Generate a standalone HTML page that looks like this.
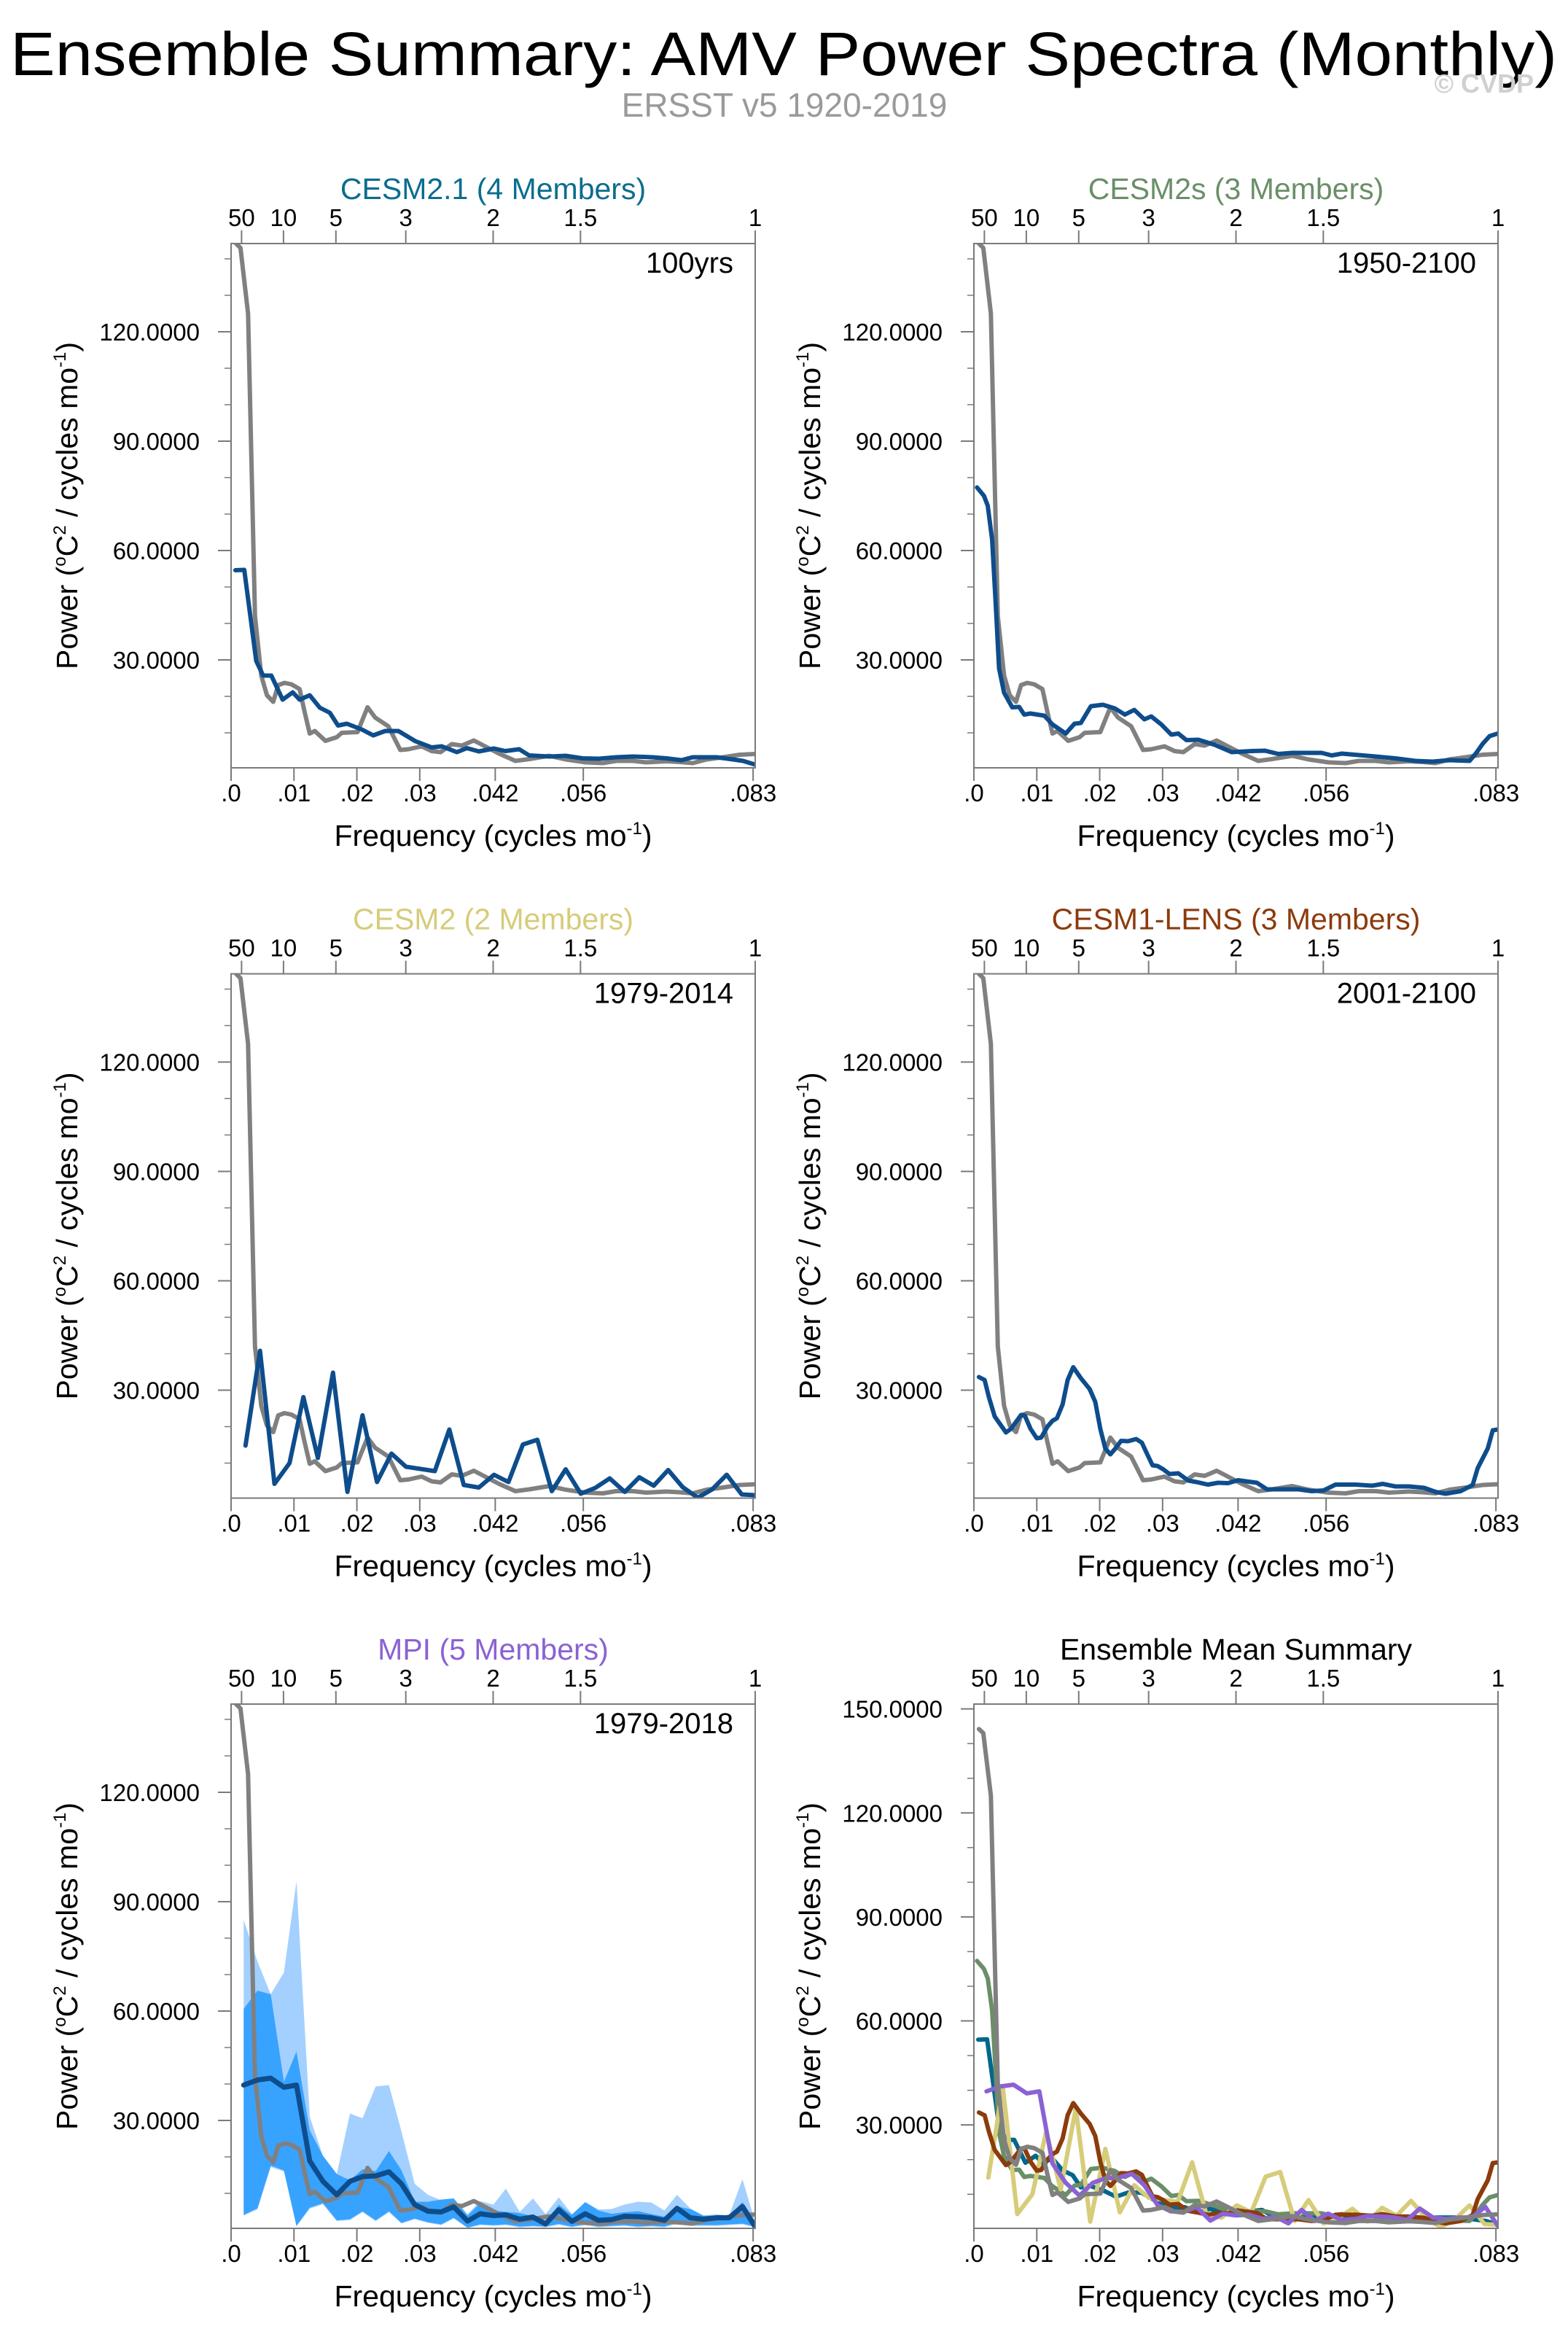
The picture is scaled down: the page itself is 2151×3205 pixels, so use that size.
<!DOCTYPE html>
<html><head><meta charset="utf-8"><style>
html,body{margin:0;padding:0;background:#fff;}
svg{display:block;font-family:"Liberation Sans",Arial,sans-serif;}
</style></head><body>
<svg id="chart" width="2151" height="3205" viewBox="0 0 2151 3205" xmlns="http://www.w3.org/2000/svg">
<text x="14" y="103" font-size="84" textLength="2122" lengthAdjust="spacingAndGlyphs" fill="#000">Ensemble Summary: AMV Power Spectra (Monthly)</text>
<text x="1076" y="160" font-size="46" text-anchor="middle" fill="#9a9a9a">ERSST v5 1920-2019</text>
<text x="2104" y="127" font-size="36" font-weight="bold" text-anchor="end" fill="#d0d0d0">© CVDP</text>
<g id="panels"></g>
</svg>
<script>
// ---------- data ----------
const obsF = [0.0008,0.0015,0.0027,0.0038,0.0048,0.0057,0.0067,0.0075,0.0085,0.0096,0.0109,0.0117,0.0125,0.0133,0.015,0.0168,0.0176,0.0201,0.0217,0.0229,0.025,0.0269,0.0282,0.0303,0.0319,0.0333,0.0351,0.0367,0.0386,0.0396,0.0426,0.0452,0.0474,0.0506,0.0532,0.0564,0.0591,0.0612,0.0639,0.066,0.0692,0.0713,0.0734,0.0756,0.0782,0.0809,0.0833];
const obsV = [144.2,143,125,42,25.7,20.3,18.5,23.1,23.7,23.3,22,15.7,9.8,10.5,7.8,8.8,10,10.2,17,14.2,11.8,5.3,5.5,6.3,5,4.7,6.9,6.5,7.9,7,4.3,2.3,2.8,3.7,2.7,1.9,1.7,2.3,2.3,1.9,2.2,2,1.7,2.7,3.3,4,4.2];

const cesm21F = [0.0007,0.0021,0.004,0.0051,0.0064,0.0082,0.0098,0.0109,0.0125,0.0141,0.0157,0.017,0.0184,0.0208,0.0226,0.0245,0.0266,0.0293,0.0319,0.0335,0.0359,0.0375,0.0394,0.0418,0.0436,0.0458,0.0474,0.0506,0.0532,0.0559,0.0585,0.0612,0.0639,0.067,0.0692,0.0716,0.0734,0.0772,0.0798,0.0814,0.0833];
const cesm21V = [54.6,54.7,29.7,25.7,25.7,19.1,21.1,19.1,20.3,16.9,15.5,12,12.5,10.9,9.3,10.5,10.5,7.7,6,6.3,4.7,5.8,4.9,5.7,5,5.5,3.8,3.5,3.7,3,2.9,3.3,3.5,3.3,3,2.5,3.3,3.3,2.7,2.3,1.3];

const cesm2sF = [0.0005,0.0016,0.0022,0.0029,0.0035,0.004,0.0048,0.0061,0.0072,0.008,0.009,0.0112,0.0125,0.0146,0.016,0.017,0.0186,0.0205,0.0224,0.024,0.0255,0.0271,0.0282,0.0298,0.0314,0.0325,0.0338,0.0357,0.0383,0.041,0.0442,0.0463,0.0484,0.0506,0.0532,0.0553,0.0569,0.0585,0.0639,0.067,0.0702,0.0729,0.0756,0.0788,0.0798,0.0809,0.082,0.0833];
const cesm2sV = [77.3,75,72.3,63,44.3,27.7,21,17,17.1,15,15.3,14.7,12.3,9.8,12.5,12.7,17.3,17.7,16.7,15,16.3,13.7,14.5,12.3,9.5,9.8,8,8.1,6.7,4.7,5,5.1,4.2,4.5,4.5,4.5,3.8,4.3,3.5,3,2.3,2.1,2.5,2.3,4.3,7,9.1,9.8];

const cesm2F = [0.0023,0.0046,0.0069,0.0093,0.0115,0.0138,0.0162,0.0185,0.0209,0.0232,0.0255,0.0278,0.0324,0.0347,0.037,0.0394,0.0418,0.0441,0.0464,0.0487,0.051,0.0532,0.0556,0.0579,0.0602,0.0626,0.0649,0.0672,0.0695,0.0718,0.0742,0.0765,0.0788,0.0812,0.0833];
const cesm2V = [14.8,40.8,4.3,10,28.1,11.4,34.8,2.1,23.1,4.8,12.6,9,7.8,19.2,4,3.3,6.8,4.8,15.1,16.4,2.3,8.3,1.6,3.2,5.8,2.1,6.1,3.8,8.1,3.4,0.5,2.8,6.8,1.4,1.2];

const lensF = [0.0008,0.0017,0.0024,0.0033,0.0051,0.0059,0.0075,0.0081,0.009,0.01,0.0107,0.0117,0.0125,0.0132,0.0141,0.0149,0.0158,0.017,0.0184,0.0193,0.0201,0.0209,0.0217,0.0225,0.0234,0.0245,0.0258,0.0267,0.0276,0.0284,0.0292,0.0301,0.0311,0.0325,0.0341,0.0354,0.0372,0.0388,0.0404,0.042,0.045,0.0466,0.0495,0.0516,0.0537,0.0556,0.0575,0.0607,0.0633,0.065,0.067,0.0692,0.0716,0.0734,0.075,0.0774,0.0793,0.0801,0.0817,0.0825,0.0833];
const lensV = [33.6,32.8,28,22.8,18.4,19.4,23.2,23,19.4,16.8,17,20,21.6,22.3,26.1,32.8,36.3,33.3,30.3,26.8,19.4,14,12.4,14,16.1,16,16.6,15.6,12.3,9.4,9.2,8.3,7,7.2,5.2,4.8,4.1,4.6,4.5,5.3,4.6,2.8,2.8,2.8,2.3,2.5,4.1,4.1,3.8,4.3,3.6,3.6,3.2,2.1,1.6,2.3,4,8.6,14,19,19.2];

const mpiF = [0.002,0.0042,0.0063,0.0084,0.0104,0.0125,0.0146,0.0168,0.0189,0.0209,0.023,0.0251,0.0271,0.0292,0.0313,0.0334,0.0354,0.0376,0.0396,0.0417,0.0437,0.0459,0.048,0.05,0.0521,0.0542,0.0563,0.0584,0.0605,0.0625,0.0647,0.0668,0.0689,0.0709,0.073,0.0751,0.0772,0.0792,0.0813,0.0833];
const mpiV = [39.7,41.1,41.6,39.1,39.7,18.9,13.3,9.6,13.3,14.6,14.8,15.9,12.6,6.9,5.1,4.9,6.3,2.4,4.4,3.9,4.1,2.9,3.5,1.6,5.5,2.3,4.4,2.6,2.8,3.7,3.6,3.3,2.6,5.9,3.3,2.9,3.3,3.3,6.4,0.9];
const mpiDarkHi = [60.6,65.6,64.6,40.6,48.9,27.3,20.3,15.3,13.6,16.6,16.1,21.6,16.3,7.7,7.7,8.3,8.6,3.9,7.3,5.3,4.9,4.6,3.7,1.9,6.9,4.1,7.6,5.3,4.4,4.8,5.1,4.3,3.6,6.4,5.7,3.9,3.9,3.9,7.6,2.3];
const mpiDarkLo = [4.1,5.9,17.6,16.3,1.1,6.1,7.3,2.6,2.9,5.1,2.6,5.1,1.9,3.1,2.1,1.5,3.3,0.6,1.5,1.3,1.5,0.9,1.1,0.9,1.6,0.9,1.5,0.9,1.1,1.3,0.9,1.1,0.9,1.9,1.3,1.3,1.3,1.5,1.7,0.9];
const mpiLightHi = [85,73.6,64.6,70.6,95.6,31,20.3,15.3,31.9,30.6,39.3,39.7,26.9,12.6,9.6,8.1,8.6,4.3,7.9,6.9,11.3,4.9,8.6,4.3,8.9,4.3,7.6,5.6,5.7,6.9,7.7,7.5,5.3,9.6,5.9,3.9,4.3,3.9,13.9,2.3];
const mpiLightLo = [3.9,5.6,17.2,16,0.9,5.8,7,2.4,2.7,4.8,2.4,4.8,1.7,2.9,1.9,1.3,3.1,0.5,1.3,1.1,1.3,0.7,0.9,0.7,1.4,0.7,1.3,0.7,0.9,1.1,0.7,0.9,0.7,1.7,1.1,1.1,1.1,1.3,1.5,0.7];

const periodLabels = ['50','10','5','3','2','1.5','1'];
const periodValues = [50,10,5,3,2,1.5,1];
const freqTicks = [0,0.01,0.02,0.03,0.042,0.056,0.083];
const freqLabels = ['.0','.01','.02','.03','.042','.056','.083'];
const yMajor = [30,60,90,120];
const yMajor6 = [30,60,90,120,150];
const yMinor = [10,20,40,50,70,80,100,110,130,140];

// ---------- drawing ----------
const NS = 'http://www.w3.org/2000/svg';
const root = document.getElementById('panels');
const W = 719, H = 719, FMAX = 1/12;
const BLUE = '#0e4d8c', GRAY = '#808080', FRAME = '#7a7a7a';
function mk(tag, attrs, parent){
  const e = document.createElementNS(NS, tag);
  for (const k in attrs) e.setAttribute(k, attrs[k]);
  parent.appendChild(e);
  return e;
}
let clipId = 0;
function panel(px, py, ymin, ymax, title, titleColor, corner, majors, nameKey){
  const g = mk('g', {}, root);
  
  
  const X = f => px + f / FMAX * W;
  const Y = v => py + H - (v - ymin) / (ymax - ymin) * H;
  const cid = 'clip' + (clipId++);
  const cp = mk('clipPath', {id: cid}, g);
  mk('rect', {x: px, y: py, width: W, height: H}, cp);
  const plot = mk('g', {'clip-path': 'url(#' + cid + ')'}, g);
  
  
  const t = mk('text', {x: px + W/2, y: py - 61, 'font-size': 41, 'text-anchor': 'middle', fill: titleColor}, g);
  t.textContent = title;
  
  
  if (corner){
    const c = mk('text', {x: px + W - 30, y: py + 40, 'font-size': 40, 'text-anchor': 'end', fill: '#000'}, g);
    c.textContent = corner;
    
    
  }
  for (const v of yMinor){
    if (v > ymax) continue;
    const l = mk('line', {x1: px - 9, x2: px, y1: Y(v), y2: Y(v), stroke: FRAME, 'stroke-width': 1.5}, g);
    
    
  }
  for (const v of majors){
    const l = mk('line', {x1: px - 18, x2: px, y1: Y(v), y2: Y(v), stroke: FRAME, 'stroke-width': 2}, g);
    
    
    const tl = mk('text', {x: px - 43, y: Y(v) + 12, 'font-size': 33, 'text-anchor': 'end', fill: '#000'}, g);
    tl.textContent = v.toFixed(4);
    
    
  }
  freqTicks.forEach((f, i) => {
    const l = mk('line', {x1: X(f), x2: X(f), y1: py + H, y2: py + H + 18, stroke: FRAME, 'stroke-width': 2}, g);
    
    
    const tl = mk('text', {x: X(f), y: py + H + 46, 'font-size': 33, 'text-anchor': 'middle', fill: '#000'}, g);
    tl.textContent = freqLabels[i];
    
    
  });
  periodValues.forEach((p, i) => {
    const f = 1 / (12 * p);
    const l = mk('line', {x1: X(f), x2: X(f), y1: py - 18, y2: py, stroke: FRAME, 'stroke-width': 2}, g);
    
    
    const tl = mk('text', {x: X(f), y: py - 24, 'font-size': 33, 'text-anchor': 'middle', fill: '#000'}, g);
    tl.textContent = periodLabels[i];
    
    
  });
  const xt = mk('text', {x: px + W/2, y: py + H + 107, 'font-size': 41, 'text-anchor': 'middle', fill: '#000'}, g);
  xt.innerHTML = 'Frequency (cycles mo<tspan dy="-16" font-size="24">-1</tspan><tspan dy="16">)</tspan>';
  
  
  const yt = mk('text', {x: 0, y: 0, 'font-size': 41, 'text-anchor': 'middle', fill: '#000', transform: 'translate(' + (px - 211) + ',' + (py + H/2) + ') rotate(-90)'}, g);
  yt.innerHTML = 'Power (<tspan dy="-16" font-size="24">o</tspan><tspan dy="16">C</tspan><tspan dy="-16" font-size="24">2</tspan><tspan dy="16"> / cycles mo</tspan><tspan dy="-16" font-size="24">-1</tspan><tspan dy="16">)</tspan>';
  
  
  return {g, plot, X, Y, px, py};
}
function line(P, F, V, color, w, name){
  const d = F.map((f, i) => (i ? 'L' : 'M') + P.X(f).toFixed(1) + ',' + P.Y(V[i]).toFixed(1)).join('');
  const p = mk('path', {d, fill: 'none', stroke: color, 'stroke-width': w, 'stroke-linejoin': 'round', 'stroke-linecap': 'round'}, P.plot);
  
  
}
function band(P, F, hi, lo, color, name){
  let pts = F.map((f, i) => P.X(f).toFixed(1) + ',' + P.Y(hi[i]).toFixed(1));
  for (let i = F.length - 1; i >= 0; i--) pts.push(P.X(F[i]).toFixed(1) + ',' + P.Y(lo[i]).toFixed(1));
  const p = mk('polygon', {points: pts.join(' '), fill: color, stroke: 'none'}, P.plot);
  
  
}
function frame(P, name){
  const r = mk('rect', {x: P.px, y: P.py, width: W, height: H, fill: 'none', stroke: FRAME, 'stroke-width': 2}, P.g);
  
  
}
const L = 317, R = 1336, T1 = 334, T2 = 1335.5, T3 = 2337;
const LO = 0.4, HI = 144.2;

let P = panel(L, T1, LO, HI, 'CESM2.1 (4 Members)', '#0a6d8e', '100yrs', yMajor, 'cesm21');
line(P, obsF, obsV, GRAY, 6, 'observed-spectrum-line');
line(P, cesm21F, cesm21V, BLUE, 6, 'cesm21-mean-line');
frame(P, 'cesm21');

P = panel(R, T1, LO, HI, 'CESM2s (3 Members)', '#6a8f68', '1950-2100', yMajor, 'cesm2s');
line(P, obsF, obsV, GRAY, 6, 'observed-spectrum-line');
line(P, cesm2sF, cesm2sV, BLUE, 6, 'cesm2s-mean-line');
frame(P, 'cesm2s');

P = panel(L, T2, LO, HI, 'CESM2 (2 Members)', '#d6cc7a', '1979-2014', yMajor, 'cesm2');
line(P, obsF, obsV, GRAY, 6, 'observed-spectrum-line');
line(P, cesm2F, cesm2V, BLUE, 6, 'cesm2-mean-line');
frame(P, 'cesm2');

P = panel(R, T2, LO, HI, 'CESM1-LENS (3 Members)', '#8c3b0c', '2001-2100', yMajor, 'cesm1-lens');
line(P, obsF, obsV, GRAY, 6, 'observed-spectrum-line');
line(P, lensF, lensV, BLUE, 6, 'cesm1-lens-mean-line');
frame(P, 'cesm1-lens');

P = panel(L, T3, LO, HI, 'MPI (5 Members)', '#8a62d4', '1979-2018', yMajor, 'mpi');
band(P, mpiF, mpiLightHi, mpiLightLo, '#a3d0ff', 'mpi-full-range-band');
band(P, mpiF, mpiDarkHi, mpiDarkLo, '#38a2ff', 'mpi-spread-band');
line(P, obsF, obsV, GRAY, 6, 'observed-spectrum-line');
line(P, mpiF, mpiV, BLUE, 7, 'mpi-mean-line');
frame(P, 'mpi');

P = panel(R, T3, 0.17, 151.4, 'Ensemble Mean Summary', '#000', null, yMajor6, 'ensemble-mean');
line(P, cesm21F, cesm21V, '#00678a', 6, 'cesm21-summary-line');
line(P, cesm2sF, cesm2sV, '#6a8f68', 6, 'cesm2s-summary-line');
line(P, cesm2F, cesm2V, '#d6cc7a', 6, 'cesm2-summary-line');
line(P, lensF, lensV, '#8c3b0c', 6, 'cesm1-lens-summary-line');
line(P, mpiF, mpiV, '#8a62d4', 6, 'mpi-summary-line');
line(P, obsF, obsV, GRAY, 6, 'observed-summary-line');
frame(P, 'ensemble-mean');
</script>
</body></html>
